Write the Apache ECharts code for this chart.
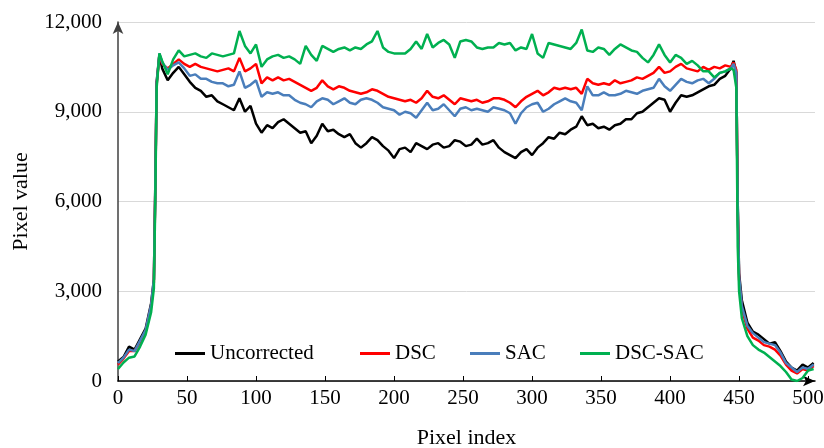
<!DOCTYPE html>
<html>
<head>
<meta charset="utf-8">
<script src="https://cdn.jsdelivr.net/npm/echarts@6/dist/echarts.min.js"></script>
<style>
  html, body { margin: 0; padding: 0; background: #fff; }
  #chart { width: 824px; height: 448px; }
</style>
</head>
<body>
<div id="chart"></div>
<script>
// Sampled pixel positions along the profile
const pixelIndex = [
  0,4,8,12,16,20,24,26,27,28,30,
  32,36,40,44,48,52,56,60,64,68,
  72,76,80,84,88,92,96,100,104,108,
  112,116,120,124,128,132,136,140,144,148,
  152,156,160,164,168,172,176,180,184,188,
  192,196,200,204,208,212,216,220,224,228,
  232,236,240,244,248,252,256,260,264,268,
  272,276,280,284,288,292,296,300,304,308,
  312,316,320,324,328,332,336,340,344,348,
  352,356,360,364,368,372,376,380,384,388,
  392,396,400,404,408,412,416,420,424,428,
  432,436,440,444,
  446,448,449,450,452,
  456,460,464,468,472,476,480,484,488,492,496,500,504
];

const uncorrected = [
  650,800,1150,1050,1400,1750,2600,3400,6500,10000,10900,
  10450,10050,10300,10500,10250,10000,9800,9700,9500,9550,
  9350,9250,9150,9050,9450,9000,9200,8600,8300,8550,
  8450,8650,8750,8600,8450,8300,8350,7950,8200,8600,
  8350,8400,8250,8150,8250,7950,7800,7950,8150,8050,
  7850,7700,7450,7750,7800,7650,7950,7850,7750,7900,
  7950,7800,7850,8050,8000,7850,7900,8100,7900,7950,
  8050,7800,7650,7550,7450,7650,7750,7550,7800,7950,
  8150,8100,8300,8250,8400,8500,8850,8550,8600,8450,
  8500,8400,8550,8600,8750,8750,8950,9000,9150,9300,
  9450,9400,9000,9300,9550,9500,9550,9650,9750,9850,
  9900,10100,10200,10450,
  10700,10300,6000,3600,2700,
  1950,1650,1550,1400,1250,1300,1000,650,450,350,550,450,600
];

const dsc = [
  550,750,1000,1000,1300,1650,2500,3300,6300,9900,10900,
  10600,10450,10600,10750,10600,10500,10600,10500,10450,10400,
  10350,10400,10450,10350,10800,10350,10450,10600,9950,10150,
  10050,10150,10050,10100,10000,9900,9800,9700,9800,10050,
  9850,9750,9850,9800,9700,9650,9600,9650,9750,9700,
  9600,9500,9450,9400,9350,9400,9300,9450,9700,9500,
  9450,9550,9400,9250,9450,9400,9350,9400,9300,9350,
  9450,9450,9400,9300,9150,9350,9500,9600,9700,9550,
  9650,9800,9750,9800,9750,9800,9600,10100,9950,9900,
  9950,9900,10050,9950,10000,10050,10150,10100,10200,10300,
  10500,10300,10350,10500,10600,10450,10400,10350,10500,10400,
  10500,10450,10550,10500,
  10650,10400,5800,3400,2400,
  1750,1450,1350,1200,1150,1050,850,550,350,250,400,350,500
];

const sac = [
  600,780,1050,1000,1350,1700,2550,3400,6400,9950,10950,
  10650,10400,10550,10650,10450,10200,10250,10100,10100,10000,
  9950,9950,9850,9900,10350,9800,9900,10050,9500,9650,
  9600,9650,9550,9550,9400,9300,9250,9150,9350,9450,
  9400,9250,9350,9450,9300,9250,9400,9450,9400,9300,
  9150,9100,9050,8900,9000,8950,8800,9050,9300,9050,
  9100,9250,9050,8850,9100,9150,9050,9100,9050,9000,
  9150,9100,9050,8950,8600,8950,9150,9250,9300,9000,
  9100,9250,9350,9450,9350,9300,9050,9850,9550,9550,
  9650,9550,9550,9600,9700,9650,9600,9700,9750,9800,
  10100,9850,9700,9900,10100,10000,9950,10050,10100,9950,
  10100,10300,10350,10450,
  10600,10300,5900,3500,2500,
  1850,1600,1450,1300,1250,1200,950,600,450,300,450,400,550
];

const dscSac = [
  400,620,780,820,1150,1550,2300,3100,6000,9800,10950,
  10700,10250,10750,11050,10850,10900,10950,10850,10800,10950,
  10900,10850,10900,10950,11700,11200,10950,11250,10500,10750,
  10850,10900,10800,10850,10750,10600,11200,10900,10700,11200,
  11100,11000,11100,11150,11050,11150,11100,11250,11350,11700,
  11150,11000,10950,10950,10950,11100,11350,11100,11600,11150,
  11300,11400,11250,10800,11350,11400,11350,11150,11100,11150,
  11150,11300,11250,11300,11050,11150,11100,11600,10950,10800,
  11300,11250,11200,11150,11100,11300,11750,11050,11000,11150,
  11100,10900,11100,11250,11150,11050,11000,10800,10650,10900,
  11250,10900,10650,10900,10800,10600,10700,10550,10350,10350,
  10150,10300,10350,10450,
  10400,9800,4500,3000,2100,
  1500,1200,1050,950,800,650,500,300,50,0,100,350,400
];

const xTicks = [0,50,100,150,200,250,300,350,400,450,500];
const seriesNames = ['Uncorrected', 'DSC', 'SAC', 'DSC-SAC'];
const seriesColors = ['#000000', '#ff0000', '#4a7ebb', '#00b050'];
const seriesValues = [uncorrected, dsc, sac, dscSac];
// left edge of each legend entry
const legendLefts = [170, 355, 465, 575];

const FONT = '"Liberation Serif", "Times New Roman", serif';

const chart = echarts.init(document.getElementById('chart'), null, { renderer: 'canvas' });

chart.setOption({
  animation: false,
  backgroundColor: '#ffffff',
  textStyle: { fontFamily: FONT },
  grid: { left: 118, right: 9, top: 22, bottom: 67, containLabel: false, outerBoundsMode: 'none' },
  legend: seriesNames.map((name, k) => ({
    data: [name],
    left: legendLefts[k],
    top: 338,
    icon: 'rect',
    itemWidth: 30,
    itemHeight: 3,
    textStyle: { fontFamily: FONT, fontSize: 21, color: '#000' }
  })),
  xAxis: {
    type: 'value',
    min: 0,
    max: 505,
    interval: 50,
    name: 'Pixel index',
    nameLocation: 'middle',
    nameGap: 46,
    nameTextStyle: { fontFamily: FONT, fontSize: 22, color: '#000' },
    axisLine: {
      show: true,
      symbol: ['none', 'arrow'],
      symbolSize: [8, 12],
      lineStyle: { color: '#000', width: 1.5 }
    },
    axisTick: { show: true, inside: true, length: 5, customValues: xTicks, lineStyle: { color: '#000' } },
    axisLabel: { customValues: xTicks, fontFamily: FONT, fontSize: 21, color: '#000', margin: 7 },
    splitLine: { show: false }
  },
  yAxis: {
    type: 'value',
    min: 0,
    max: 12000,
    interval: 3000,
    name: 'Pixel value',
    nameLocation: 'middle',
    nameGap: 86,
    nameTextStyle: { fontFamily: FONT, fontSize: 22, color: '#000' },
    axisLine: {
      show: true,
      symbol: ['none', 'arrow'],
      symbolSize: [8, 12],
      lineStyle: { color: '#404040', width: 1.5 }
    },
    axisTick: { show: false },
    axisLabel: {
      fontFamily: FONT,
      fontSize: 21,
      color: '#000',
      margin: 16,
      formatter: v => v.toLocaleString('en-US')
    },
    splitLine: { show: true, lineStyle: { color: '#d9d9d9', width: 1 } }
  },
  series: seriesNames.map((name, k) => ({
    name,
    type: 'line',
    showSymbol: false,
    symbol: 'none',
    smooth: false,
    color: seriesColors[k],
    lineStyle: { width: 2.5, color: seriesColors[k] },
    data: pixelIndex.map((x, i) => [x, seriesValues[k][i]])
  }))
});
</script>
</body>
</html>
